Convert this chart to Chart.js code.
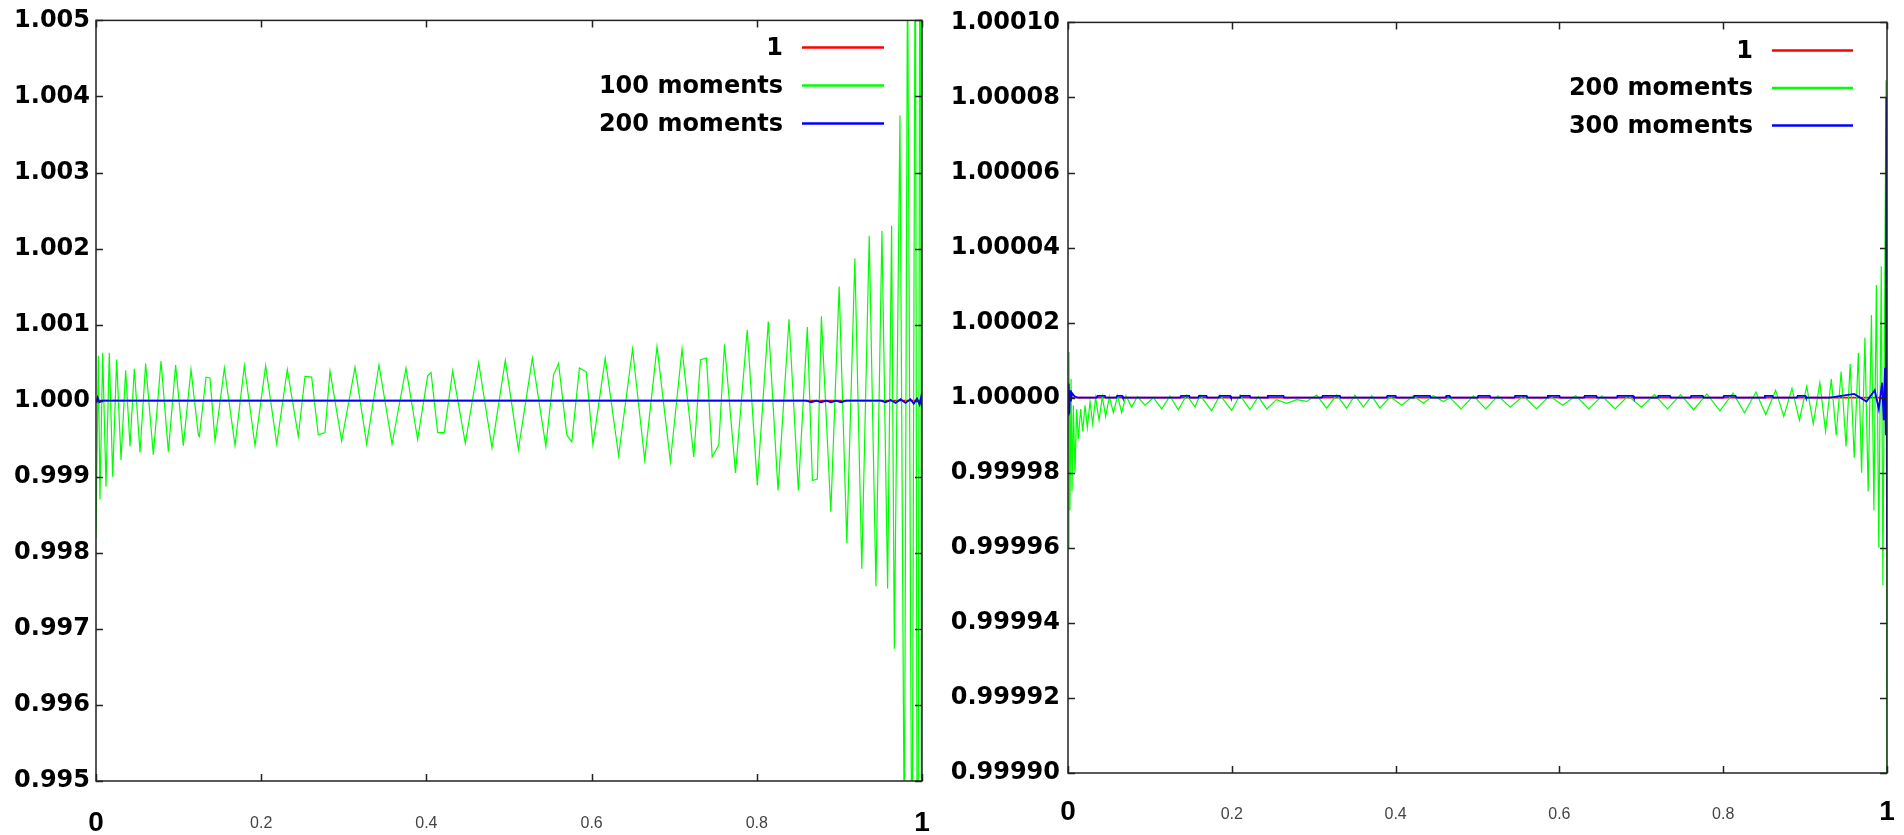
<!DOCTYPE html>
<html>
<head>
<meta charset="utf-8">
<script src="https://cdn.jsdelivr.net/npm/chart.js@4.4.1/dist/chart.umd.min.js"></script>
<style>
	body { margin: 0; background: #fff; }
	#left-box { position: absolute; left: 0; top: 0; }
	#right-box { position: absolute; left: 940px; top: 0; }
</style>
</head>
<body>
<div id="left-box"><canvas id="chart-left" width="940" height="835"></canvas></div>
<div id="right-box"><canvas id="chart-right" width="964" height="835"></canvas></div>
<script>
// ---- left panel: exact value 1, 100 moments, 200 moments
var left_exact_x = [0, 1];
var left_exact_y = [1, 1];

var left_100_x = [0, 0.0028, 0.0048, 0.0081, 0.0121, 0.0161, 0.0202, 0.0250, 0.0303, 0.0359, 0.0412, 0.0464, 0.0533, 0.0601, 0.0694, 0.0787, 0.0876, 0.0964, 0.1057, 0.1150,
	0.1239, 0.1251, 0.1332, 0.1380, 0.1441, 0.1554, 0.1683, 0.1796, 0.1925, 0.2054, 0.2188, 0.2316, 0.2449, 0.2530, 0.2611, 0.2691, 0.2772, 0.2833, 0.2974, 0.3136,
	0.3277, 0.3426, 0.3584, 0.3753, 0.3894, 0.4016, 0.4056, 0.4137, 0.4217, 0.4318, 0.4471, 0.4633, 0.4794, 0.4955, 0.5114, 0.5283, 0.5446, 0.5539, 0.5600, 0.5700,
	0.5760, 0.5853, 0.5935, 0.6016, 0.6165, 0.6327, 0.6496, 0.6643, 0.6792, 0.6954, 0.7095, 0.7237, 0.7318, 0.7391, 0.7460, 0.7540, 0.7609, 0.7742, 0.7884, 0.8006,
	0.8139, 0.8257, 0.8390, 0.8503, 0.8612, 0.8673, 0.8733, 0.8782, 0.8896, 0.8997, 0.9090, 0.9187, 0.9271, 0.9361, 0.9442, 0.9515, 0.9584, 0.9632, 0.9665, 0.9733,
	0.9786, 0.9825, 0.9879, 0.9919, 0.9947, 0.9979, 1.0];
var left_100_y = [0.99820, 1.00059, 0.99870, 1.00063, 0.99887, 1.00063, 0.99900, 1.00054, 0.99922, 1.00040, 0.99940, 1.00042, 0.99932, 1.00049, 0.99929, 1.00052, 0.99933, 1.00047, 0.99941, 1.00041,
	0.99955, 0.99953, 1.00031, 1.00030, 0.99947, 1.00043, 0.99941, 1.00046, 0.99941, 1.00046, 0.99943, 1.00041, 0.99953, 1.00032, 1.00031, 0.99955, 0.99958, 1.00039, 0.99947, 1.00044,
	0.99943, 1.00047, 0.99943, 1.00043, 0.99949, 1.00033, 1.00037, 0.99958, 0.99958, 1.00039, 0.99944, 1.00050, 0.99938, 1.00053, 0.99936, 1.00056, 0.99940, 1.00034, 1.00049, 0.99955,
	0.99946, 1.00043, 1.00038, 0.99942, 1.00056, 0.99928, 1.00068, 0.99922, 1.00071, 0.99920, 1.00068, 0.99926, 1.00054, 1.00056, 0.99926, 0.99942, 1.00074, 0.99905, 1.00093, 0.99889,
	1.00104, 0.99882, 1.00107, 0.99882, 1.00097, 0.99895, 0.99897, 1.00111, 0.99854, 1.00150, 0.99813, 1.00187, 0.99779, 1.00217, 0.99756, 1.00223, 0.99753, 1.00230, 0.99674, 1.00375,
	0.99400, 1.00600, 0.99300, 1.00700, 0.99000, 1.01000, 0.98500];

var left_200_x = [0, 0.002, 0.004, 0.007, 0.860, 0.866, 0.872, 0.878, 0.884, 0.890, 0.896, 0.902, 0.908, 0.914, 0.950, 0.956, 0.962, 0.968, 0.974, 0.980, 0.986, 0.990, 0.994, 0.997, 0.999, 1.0];
var left_200_y = [0.99997, 1.00004, 0.99998, 1.0, 1.0, 0.99998, 1.0, 0.99998, 1.0, 0.99998, 1.0, 0.99998, 1.0, 1.0, 1.0, 0.99998, 1.00001, 0.99997, 1.00002, 0.99997, 1.00002, 0.99996, 1.00003, 0.99995, 1.00005, 0.99990];

// ---- right panel: exact value 1, 200 moments, 300 moments
var right_exact_x = [0, 1];
var right_exact_y = [1, 1];

var right_200_x = [0, 0.0012, 0.0024, 0.0037, 0.0049, 0.0065, 0.0085, 0.0106, 0.0126, 0.0155, 0.0179, 0.0208, 0.0236, 0.0269, 0.0301, 0.0338, 0.0379, 0.0419, 0.0460, 0.0505,
	0.0554, 0.0606, 0.0655, 0.0708, 0.0777, 0.0847, 0.0940, 0.1042, 0.1144, 0.1245, 0.1347, 0.1449, 0.1551, 0.1612, 0.1754, 0.1856, 0.1998, 0.2100, 0.2222, 0.2324,
	0.2426, 0.2547, 0.2670, 0.2792, 0.2914, 0.3036, 0.3158, 0.3280, 0.3402, 0.3504, 0.3606, 0.3708, 0.3810, 0.3932, 0.4074, 0.4217, 0.4339, 0.4460, 0.4583, 0.4664,
	0.480, 0.495, 0.510, 0.525, 0.540, 0.556, 0.572, 0.588, 0.604, 0.620, 0.636, 0.652, 0.668, 0.684, 0.700, 0.716, 0.732, 0.748, 0.764, 0.780,
	0.796, 0.812, 0.826, 0.840, 0.852, 0.864, 0.874, 0.884, 0.893, 0.902, 0.910, 0.918, 0.925, 0.932, 0.938, 0.944, 0.950, 0.955, 0.960, 0.965,
	0.969, 0.973, 0.977, 0.981, 0.984, 0.987, 0.990, 0.993, 0.995, 0.997, 0.9988, 1.0];
var right_200_y = [0.99996, 1.0000122, 0.99997, 1.000005, 0.999975, 0.999998, 0.99998, 0.999997, 0.999989, 0.999997, 0.999991, 0.999998, 0.999992, 0.999999, 0.999993, 1.0, 0.999994, 1.0000003, 0.999995, 1.0000003,
	0.999996, 1.0000005, 0.999996, 1.0000005, 0.9999975, 1.0000003, 0.999998, 1.0, 0.999997, 1.0000005, 0.9999968, 1.0000007, 0.9999975, 1.0000007, 0.9999965, 1.0000007, 0.9999966, 1.0000007, 0.9999968, 1.0000003,
	0.999997, 0.9999995, 0.9999985, 0.9999995, 0.999999, 1.0000007, 0.9999972, 1.0000007, 0.9999972, 1.0000007, 0.9999975, 1.0000005, 0.9999972, 1.0000003, 0.999998, 1.0000005, 0.9999985, 1.0000005, 0.999999, 1.0,
	0.999997, 1.0000005, 0.999997, 1.0000005, 0.9999975, 1.0000005, 0.999997, 1.0000005, 0.999998, 1.0000005, 0.999997, 1.0000005, 0.999997, 1.0000005, 0.9999975, 1.0000008, 0.999997, 1.0000008, 0.9999968, 1.000001,
	0.9999965, 1.0000012, 0.999996, 1.0000015, 0.9999955, 1.000002, 0.999995, 1.0000025, 0.999994, 1.000003, 0.999993, 1.000004, 0.999991, 1.000005, 0.99999, 1.000007, 0.999987, 1.000009, 0.999984, 1.000012,
	0.99998, 1.000016, 0.999975, 1.000022, 0.99997, 1.00003, 0.99996, 1.000035, 0.99995, 1.00002, 1.0000846, 0.9999];

// 300 moments: sits on 1 with short raised dashes, wiggles at both ends
var right_300_x = [0, 0.0008, 0.0016, 0.0025, 0.0035, 0.005, 0.008, 0.012,
	0.035, 0.036, 0.045, 0.046, 0.059, 0.060, 0.066, 0.067, 0.137, 0.138, 0.148, 0.149, 0.159, 0.160, 0.169, 0.170,
	0.184, 0.185, 0.198, 0.199, 0.210, 0.211, 0.222, 0.223, 0.243, 0.244, 0.263, 0.264, 0.310, 0.311, 0.332, 0.333,
	0.389, 0.390, 0.400, 0.401, 0.422, 0.423, 0.442, 0.443, 0.461, 0.462, 0.466, 0.467, 0.500, 0.501, 0.515, 0.516,
	0.545, 0.546, 0.560, 0.561, 0.585, 0.586, 0.600, 0.601, 0.630, 0.631, 0.645, 0.646, 0.670, 0.671, 0.690, 0.691,
	0.720, 0.721, 0.735, 0.736, 0.760, 0.761, 0.775, 0.776, 0.800, 0.801, 0.815, 0.816, 0.850, 0.851, 0.860, 0.861,
	0.890, 0.891, 0.900, 0.901, 0.930, 0.960, 0.975, 0.985, 0.990, 0.994, 0.996, 0.9975, 0.9985, 0.9993, 1.0];
var right_300_y = [0.9999955, 1.0000038, 0.9999958, 1.000002, 0.999999, 1.0000012, 1.0000004, 1.0,
	1.0, 1.0000005, 1.0000005, 1.0, 1.0, 1.0000005, 1.0000005, 1.0, 1.0, 1.0000005, 1.0000005, 1.0, 1.0, 1.0000005, 1.0000005, 1.0,
	1.0, 1.0000005, 1.0000005, 1.0, 1.0, 1.0000005, 1.0000005, 1.0, 1.0, 1.0000005, 1.0000005, 1.0, 1.0, 1.0000005, 1.0000005, 1.0,
	1.0, 1.0000005, 1.0000005, 1.0, 1.0, 1.0000005, 1.0000005, 1.0, 1.0, 1.0000005, 1.0000005, 1.0, 1.0, 1.0000005, 1.0000005, 1.0,
	1.0, 1.0000005, 1.0000005, 1.0, 1.0, 1.0000005, 1.0000005, 1.0, 1.0, 1.0000005, 1.0000005, 1.0, 1.0, 1.0000005, 1.0000005, 1.0,
	1.0, 1.0000005, 1.0000005, 1.0, 1.0, 1.0000005, 1.0000005, 1.0, 1.0, 1.0000005, 1.0000005, 1.0, 1.0, 1.0000005, 1.0000005, 1.0,
	1.0, 1.0000005, 1.0000005, 1.0, 1.0, 1.000001, 0.999999, 1.000002, 0.999997, 1.000004, 0.999994, 1.000008, 0.99999, 1.00008, 0.99996];

var x_ticks = [0, 0.2, 0.4, 0.6, 0.8, 1];

function pts(xs, ys) {
	return xs.map(function (x, i) {
		return {x: x, y: ys[i]};
	});
}

// box around the plot, inward tick marks on all four sides, legend at top right
var frame_plugin = {
	id: 'frame',
	afterDraw: function (chart, args, opts) {
		var ctx = chart.ctx;
		var a = chart.chartArea;
		var sx = chart.scales.x;
		var sy = chart.scales.y;
		ctx.save();
		ctx.strokeStyle = '#222';
		ctx.lineWidth = 1.5;
		ctx.strokeRect(a.left, a.top, a.right - a.left, a.bottom - a.top);
		ctx.beginPath();
		sx.ticks.forEach(function (t) {
			var px = Math.round(sx.getPixelForValue(t.value)) + 0.5;
			ctx.moveTo(px, a.bottom); ctx.lineTo(px, a.bottom - 7);
			ctx.moveTo(px, a.top); ctx.lineTo(px, a.top + 7);
		});
		sy.ticks.forEach(function (t) {
			var py = Math.round(sy.getPixelForValue(t.value)) + 0.5;
			ctx.moveTo(a.left, py); ctx.lineTo(a.left + 7, py);
			ctx.moveTo(a.right, py); ctx.lineTo(a.right - 7, py);
		});
		ctx.stroke();

		// legend: label right aligned, line sample to its right
		ctx.font = 'bold 24px "DejaVu Sans"';
		ctx.textAlign = 'right';
		ctx.textBaseline = 'middle';
		chart.data.datasets.forEach(function (ds, i) {
			var y = a.top + opts.rowTop + i * opts.rowGap;
			var x1 = a.right - opts.lineRight - opts.lineLen;
			ctx.fillStyle = '#000';
			ctx.fillText(ds.label, x1 - opts.textGap, y + 1);
			ctx.strokeStyle = ds.borderColor;
			ctx.lineWidth = 2.5;
			ctx.beginPath();
			ctx.moveTo(x1, y);
			ctx.lineTo(x1 + opts.lineLen, y);
			ctx.stroke();
		});
		ctx.restore();
	}
};

// x labels: big bold 0 and 1, small grey inner values; line heights set the vertical spot
function make_chart(canvas_id, sets, y_min, y_max, y_step, y_digits, y_font, y_width, x_height, big_lh, small_lh, pad, legend) {
	var ctx = document.getElementById(canvas_id).getContext('2d');
	return new Chart(ctx, {
		type: 'line',
		data: {
			datasets: sets.map(function (s) {
				return {
					label: s.label,
					data: pts(s.x, s.y),
					borderColor: s.color,
					borderWidth: s.width,
					order: s.order,
					pointRadius: 0,
					tension: 0,
					fill: false,
					clip: 0
				};
			})
		},
		options: {
			responsive: false,
			animation: false,
			devicePixelRatio: 1,
			layout: {padding: pad},
			plugins: {
				legend: {display: false},
				tooltip: {enabled: false},
				frame: legend
			},
			scales: {
				x: {
					type: 'linear',
					min: 0,
					max: 1,
					afterBuildTicks: function (scale) {
						scale.ticks = x_ticks.map(function (v) { return {value: v}; });
					},
					afterFit: function (scale) { scale.height = x_height; },
					grid: {display: false, drawTicks: false},
					border: {display: false},
					ticks: {
						padding: 4,
						maxRotation: 0,
						autoSkip: false,
						callback: function (v) { return Number(v.toFixed(1)).toString(); },
						color: function (c) {
							var v = c.tick ? c.tick.value : 0;
							return (v === 0 || v === 1) ? '#000' : '#444';
						},
						font: function (c) {
							var v = c.tick ? c.tick.value : 0;
							if (v === 0 || v === 1) {
								return {family: '"Liberation Sans", Arial', size: 28, weight: 'bold', lineHeight: big_lh};
							}
							return {family: '"Liberation Sans", Arial', size: 16, weight: 'normal', lineHeight: small_lh};
						}
					}
				},
				y: {
					type: 'linear',
					min: y_min,
					max: y_max,
					afterFit: function (scale) { scale.width = y_width; },
					grid: {display: false, drawTicks: false},
					border: {display: false},
					ticks: {
						stepSize: y_step,
						padding: y_font.pad,
						autoSkip: false,
						color: '#000',
						font: {family: '"DejaVu Sans"', size: y_font.size, weight: 'bold'},
						callback: function (v) { return v.toFixed(y_digits); }
					}
				}
			}
		},
		plugins: [frame_plugin]
	});
}

make_chart('chart-left', [
	{label: '1', x: left_exact_x, y: left_exact_y, color: '#ff0000', width: 1.8, order: 3},
	{label: '100 moments', x: left_100_x, y: left_100_y, color: '#00ff00', width: 1.2, order: 2},
	{label: '200 moments', x: left_200_x, y: left_200_y, color: '#0000ff', width: 1.8, order: 1}
], 0.995, 1.005, 0.001, 3, {size: 24, pad: 6}, 96, 54, 2.75, 4.875,
	{top: 20, right: 18, left: 0, bottom: 0},
	{rowTop: 27, rowGap: 38, lineRight: 38, lineLen: 82, textGap: 19});

make_chart('chart-right', [
	{label: '1', x: right_exact_x, y: right_exact_y, color: '#ff0000', width: 1.8, order: 3},
	{label: '200 moments', x: right_200_x, y: right_200_y, color: '#00ff00', width: 1.2, order: 2},
	{label: '300 moments', x: right_300_x, y: right_300_y, color: '#0000ff', width: 1.8, order: 1}
], 0.9999, 1.0001, 0.00002, 5, {size: 24, pad: 8}, 128, 62, 2.5, 4.75,
	{top: 19, right: 17, left: 0, bottom: 0},
	{rowTop: 28, rowGap: 37.5, lineRight: 34, lineLen: 81, textGap: 19});
</script>
</body>
</html>
